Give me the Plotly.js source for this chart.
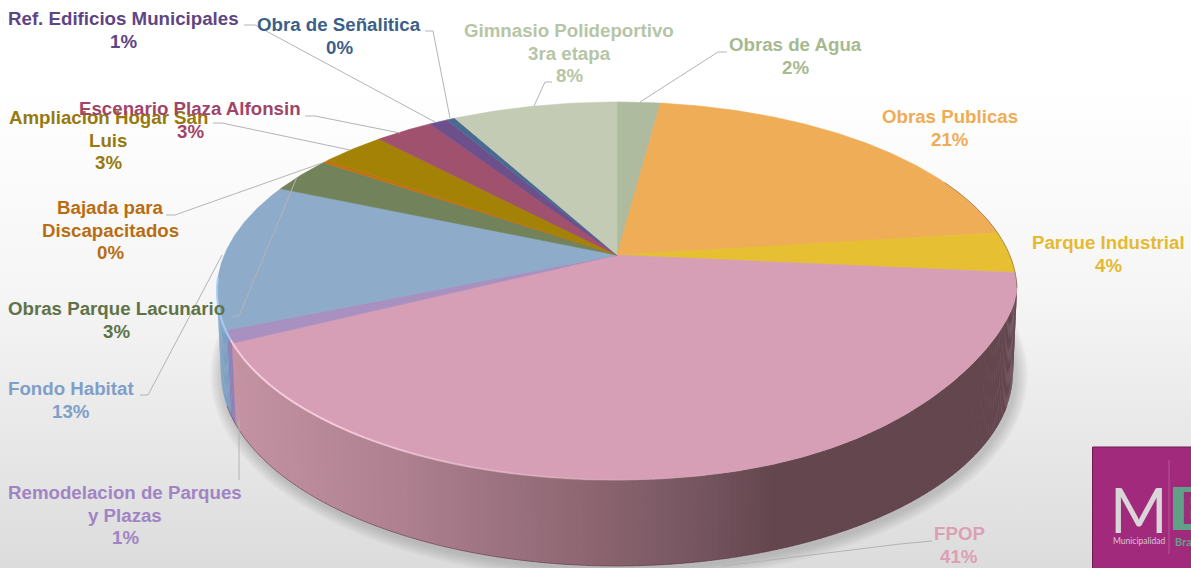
<!DOCTYPE html>
<html>
<head>
<meta charset="utf-8">
<script src="https://cdn.plot.ly/plotly-3.0.1.min.js"></script>
<style>
html,body{margin:0;padding:0;width:1191px;height:568px;overflow:hidden;background:linear-gradient(180deg,#ffffff 0%,#ffffff 15%,#f6f6f6 50%,#dcdcdc 100%);}
#chart{width:1191px;height:568px;}
</style>
</head>
<body>
<div id="chart"></div>
<script>
// ---- chart data (clockwise from 12 o'clock) ----
const categories = ["Obras de Agua","Obras Publicas","Parque Industrial","FPOP","Remodelacion de Parques<br>y Plazas","Fondo Habitat","Obras Parque Lacunario","Bajada para<br>Discapacitados","Ampliacion Hogar San<br>Luis","Escenario Plaza Alfonsin","Ref. Edificios Municipales","Obra de Señalitica","Gimnasio Polideportivo<br>3ra etapa"];
const values = [2.1,20.9,3.5,41.2,1.05,12.65,3.1,0.3,3.1,2.8,0.9,0.4,8.0];
const percentLabels = ["2%","21%","4%","41%","1%","13%","3%","0%","3%","3%","1%","0%","8%"];
const sliceColors = ["#aebb9f","#f0ad58","#e6c032","#d69fb5","#a890c0","#8eabca","#72835b","#c0720f","#a38205","#a0516e","#6d4f8c","#4a6b90","#c3cbb5"];
const labelColors = ["#a7b98f","#f0ab55","#e6b92f","#dc9fb4","#a184c4","#7f9fc9","#5f7348","#b96d12","#96790f","#a0456a","#5e4584","#3b5f89","#b6c5a5"];
const labelX = [795,950,1108,959,125,71,116,110,108,190,123,339,569];
const labelY = [56,128,254,545,515,400,320,230,140,120,30,36,53];
const leaderLines = [
  [[727,52],[718,52],[640,102]],
  null,
  null,
  [[932,541],[900,544],[722,566]],
  [[239,480],[239,420]],
  [[140,395],[148,395],[222,255]],
  [[232,316],[239,316],[297,177]],
  [[166,215],[175,215],[322,163]],
  [[213,123],[222,123],[350,150]],
  [[305,116],[315,116],[400,133]],
  [[244,25],[255,25],[435,122]],
  [[425,31],[433,31],[450,118]],
  [[552,82],[545,82],[534,106]]
];
// rim colour stops: [x pixel, rgb]
const rimStops = [[232,[196,146,163]],[400,[174,128,144]],[600,[138,100,112]],[700,[117,85,95]],[775,[100,70,79]],[1020,[100,70,79]]];

// ---- perspective geometry ----
const CX=617, CY=291, RX=400, RY=189, A=0.19;     // top face
const LCX=617, LCY=372, LRX=396, LRY=194;         // bottom edge
function tuck(u,v){ return (u>0&&v>0)? -33*Math.pow(u,4)*Math.sqrt(v) : 0; }
function project(theta){
  const X=Math.sin(theta), Y=-Math.cos(theta), d=1-A*Y;
  const u=X*Math.sqrt(1-A*A)/d, v=(Y-A)/d;
  return [CX+RX*u, CY+RY*v+tuck(u,v)];
}
const TAU=Math.PI*2;
const total=values.reduce((a,b)=>a+b,0);
const traces=[];
let acc=0;
values.forEach((v,i)=>{
  const a0=acc/total*TAU, a1=(acc+v)/total*TAU;
  acc+=v;
  const xs=[],ys=[];
  const c=[CX, CY-RY*A];
  xs.push(c[0]); ys.push(c[1]);
  const n=Math.max(2,Math.ceil((a1-a0)/0.01));
  for(let k=0;k<=n;k++){const p=project(a0+(a1-a0)*k/n); xs.push(p[0]); ys.push(p[1]);}
  xs.push(c[0]); ys.push(c[1]);
  traces.push({type:'scatter',mode:'lines',x:xs,y:ys,fill:'toself',fillcolor:sliceColors[i],
    line:{color:sliceColors[i],width:0.6},name:categories[i].replace('<br>',' '),hoverinfo:'skip',showlegend:false});
});

function ellPhi(phi,low){
  if(low) return [LCX+LRX*Math.cos(phi),LCY+LRY*Math.sin(phi)];
  const u=Math.cos(phi), v=Math.sin(phi);
  return [CX+RX*u,CY+RY*v+tuck(u,v)];
}
function pathOf(pts,close){ return 'M'+pts.map(p=>p[0].toFixed(2)+','+p[1].toFixed(2)).join('L')+(close?'Z':''); }
function rimColor(x){
  for(let i=0;i<rimStops.length-1;i++){
    const a=rimStops[i],b=rimStops[i+1];
    if(x<=b[0]){
      const t=Math.max(0,(x-a[0])/(b[0]-a[0]));
      const c=a[1].map((v,j)=>Math.round(v+(b[1][j]-v)*t));
      return 'rgb('+c.join(',')+')';
    }
  }
  return 'rgb(100,70,79)';
}
const shapes=[];
// soft shadow under the pie
for(let i=8;i>=1;i--){
  const pts=[];
  for(let d=0;d<=360;d+=3){const r=d*Math.PI/180; pts.push([LCX+2+(LRX+i*1.6)*Math.cos(r),LCY+3+(LRY+i*1.6)*Math.sin(r)]);}
  shapes.push({type:'path',path:pathOf(pts,true),xref:'x',yref:'y',layer:'below',fillcolor:'rgba(90,90,90,0.035)',line:{width:0}});
}
// rim bands
const phiFP=Math.acos((232-CX)/RX), phiRM=Math.acos((227-CX)/RX);
const step=0.9*Math.PI/180;
for(let phi=-4*Math.PI/180;phi<Math.PI;phi+=step){
  const p2=Math.min(phi+step*1.25,Math.PI);
  const pts=[];
  for(let k=0;k<=2;k++)pts.push(ellPhi(phi+(p2-phi)*k/2,false));
  for(let k=2;k>=0;k--)pts.push(ellPhi(phi+(p2-phi)*k/2,true));
  const mid=(phi+p2)/2, mx=ellPhi(mid,false)[0];
  let col;
  if(mid>phiRM) col='rgb(124,160,196)';
  else if(mid>phiFP) col='rgb(146,128,182)';
  else col=rimColor(mx);
  shapes.push({type:'path',path:pathOf(pts,true),xref:'x',yref:'y',layer:'below',fillcolor:col,line:{width:0}});
}
// rim darker bottom line
(function(){
  const pts=[];for(let d=10;d<=170;d+=2){pts.push(ellPhi(d*Math.PI/180,true));}
  shapes.push({type:'path',path:pathOf(pts,false),xref:'x',yref:'y',layer:'below',line:{color:'rgba(90,50,65,0.55)',width:1}});
})();
// highlight on the front edge of the top face
for(let d=165;d>=86;d-=3){
  const pts=[ellPhi(d*Math.PI/180,false),ellPhi((d-3)*Math.PI/180,false)];
  const op=Math.min(0.95,(d-86)/50*0.95);
  shapes.push({type:'path',path:pathOf(pts,false),xref:'x',yref:'y',layer:'above',line:{color:'rgba(248,205,220,'+op.toFixed(2)+')',width:2}});
}
// pale blue edge of Fondo Habitat
(function(){
  const a=[];for(let d=165;d<=184;d+=1)a.push(ellPhi(d*Math.PI/180,false));
  shapes.push({type:'path',path:pathOf(a,false),xref:'x',yref:'y',layer:'above',line:{color:'rgba(170,205,245,0.9)',width:2}});
  const b=[];for(let d=-35;d<=-1;d+=1)b.push(ellPhi(d*Math.PI/180,false));
  shapes.push({type:'path',path:pathOf(b,false),xref:'x',yref:'y',layer:'above',line:{color:'rgba(110,90,50,0.55)',width:1}});
})();
// leader lines
leaderLines.forEach(l=>{ if(l) shapes.push({type:'path',path:pathOf(l,false),xref:'x',yref:'y',layer:'above',line:{color:'#b4b4b4',width:1}}); });
// logo block
shapes.push({type:'rect',x0:1092.5,x1:1192,y0:447,y1:569,xref:'x',yref:'y',layer:'above',fillcolor:'#a22a7c',line:{color:'#6c1c55',width:1}});
shapes.push({type:'rect',x0:1168.5,x1:1169.5,y0:460,y1:554,xref:'x',yref:'y',layer:'above',fillcolor:'#b65796',line:{width:0}});
shapes.push({type:'rect',x0:1173,x1:1192,y0:487,y1:530,xref:'x',yref:'y',layer:'above',fillcolor:'#5fa184',line:{width:0}});

// one annotation per text line, so the 22 px line pitch of the reference holds
const LINE=22.5;
const annotations=[];
categories.forEach((c,i)=>{
  const lines=c.split('<br>').concat([percentLabels[i]]);
  lines.forEach((t,j)=>{
    annotations.push({x:labelX[i],y:labelY[i]+(j-(lines.length-1)/2)*LINE,xref:'x',yref:'y',xanchor:'center',yanchor:'middle',align:'center',showarrow:false,
      text:t,font:{family:'"Liberation Sans",Arial,sans-serif',size:18.7,color:labelColors[i],weight:700}});
  });
});
annotations.push({x:1139,y:509,xref:'x',yref:'y',xanchor:'center',yanchor:'middle',showarrow:false,text:'M',font:{family:'Lato,sans-serif',size:62,color:'#d9d5d8',weight:400}});
annotations.push({x:1139,y:541,xref:'x',yref:'y',xanchor:'center',yanchor:'middle',showarrow:false,text:'Municipalidad',font:{family:'Lato,sans-serif',size:8.5,color:'#d9c5d4'}});
annotations.push({x:1173,y:541,xref:'x',yref:'y',xanchor:'left',yanchor:'middle',showarrow:false,text:'Bra',font:{family:'Lato,sans-serif',size:11,color:'#5fa184',weight:700}});
annotations.push({x:1179,y:508,xref:'x',yref:'y',xanchor:'left',yanchor:'middle',showarrow:false,text:'B',font:{family:'"Liberation Sans",sans-serif',size:46,color:'#a22a7c',weight:700}});

Plotly.newPlot('chart',traces,{
  width:1191,height:568,margin:{l:0,r:0,t:0,b:0},
  paper_bgcolor:'rgba(0,0,0,0)',plot_bgcolor:'rgba(0,0,0,0)',showlegend:false,hovermode:false,
  xaxis:{range:[0,1191],visible:false,fixedrange:true},
  yaxis:{range:[568,0],visible:false,fixedrange:true},
  shapes:shapes,annotations:annotations
},{staticPlot:true,displayModeBar:false});
</script>
</body>
</html>
